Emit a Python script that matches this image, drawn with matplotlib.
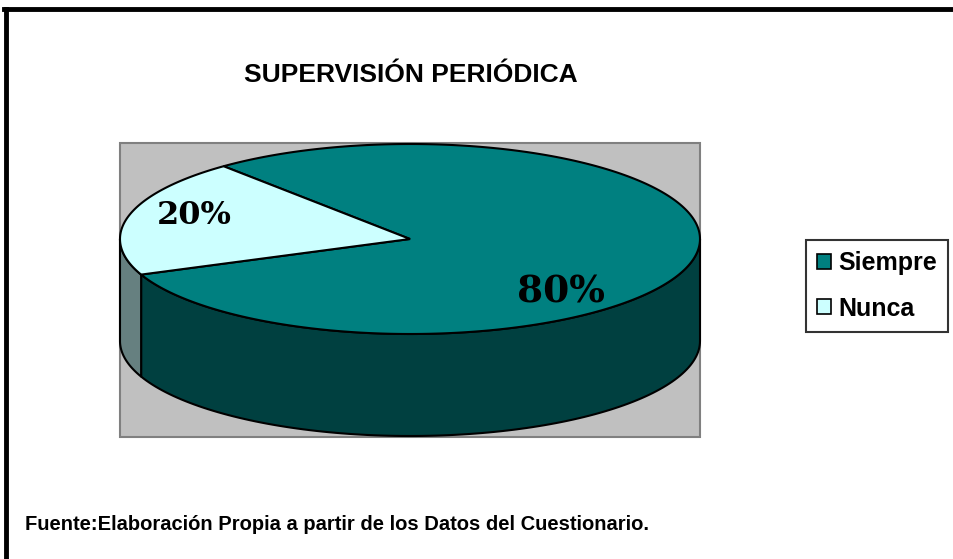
import numpy as np
import matplotlib.pyplot as plt
from matplotlib.patches import Polygon, Rectangle, Patch
from matplotlib.lines import Line2D

# ==============================
# datos
# ==============================
titulo = "SUPERVISIÓN PERIÓDICA"
fuente = "Fuente:Elaboración Propia a partir de los Datos del Cuestionario."
categorias = ["Siempre", "Nunca"]
porcentajes = [80, 20]
color_top = ["#008080", "#CCFFFF"]
color_lado = ["#004040", "#668080"]

# ==============================
# geometria (pixeles)
# ==============================
W, H = 954, 559
cx, cy = 410, 239
rx, ry = 290, 95
prof = 102
inicio = 130.0   # angulo (grados) donde empieza la primera porcion, sentido horario

fig = plt.figure(figsize=(W / 100, H / 100), dpi=100)
ax = fig.add_axes([0, 0, 1, 1])
ax.set_xlim(0, W)
ax.set_ylim(H, 0)
ax.axis("off")

# area del grafico
ax.add_patch(Rectangle((120, 143), 580, 294, facecolor="#C0C0C0",
                       edgecolor="#808080", lw=1.5, zorder=1))


def punto(t, dz=0.0):
    t = np.radians(t)
    return cx + rx * np.cos(t), cy - ry * np.sin(t) + dz


# angulos de cada porcion (sentido horario desde "inicio")
tot = sum(porcentajes)
rangos = []
a = inicio
for p in porcentajes:
    b = a - 360.0 * p / tot
    rangos.append((b, a))  # de b a a (creciente)
    a = b

# caras laterales (solo parte frontal: 180..360)
for (b, a), cl in zip(rangos, color_lado):
    for k in range(-1, 2):
        lo = max(b, 180 + 360 * k)
        hi = min(a, 360 + 360 * k)
        if hi <= lo:
            continue
        ts = np.linspace(lo, hi, 120)
        top = [punto(t) for t in ts]
        bot = [punto(t, prof) for t in ts[::-1]]
        ax.add_patch(Polygon(top + bot, closed=True, facecolor=cl,
                             edgecolor="black", lw=1.5, zorder=2))

# caras superiores
for (b, a), ct in zip(rangos, color_top):
    ts = np.linspace(b, a, 300)
    pts = [(cx, cy)] + [punto(t) for t in ts]
    ax.add_patch(Polygon(pts, closed=True, facecolor=ct,
                         edgecolor="black", lw=1.5, zorder=3))

# etiquetas de porcentaje
pos_etq = [(561, 292), (194, 215)]
tam_etq = [27, 23]
for p, (x, y), s in zip(porcentajes, pos_etq, tam_etq):
    ax.text(x, y, f"{p}%", ha="center", va="center", fontsize=s,
            fontweight="bold", family="DejaVu Serif", zorder=5)

# titulo
ax.text(411, 75, titulo, ha="center", va="center", fontsize=19,
        fontweight="bold", family=["Liberation Sans Narrow", "Liberation Sans"])

# fuente
ax.text(25, 525, fuente, ha="left", va="center", fontsize=14.5,
        fontweight="bold", family=["Liberation Sans Narrow", "Liberation Sans"])

# leyenda
handles = [Patch(facecolor=c, edgecolor="black", lw=1.2) for c in color_top]
leg = fig.legend(handles, categorias, loc="center", bbox_to_anchor=(877 / W, 1 - 286 / H),
                 prop={"family": "Liberation Sans", "weight": "bold", "size": 18},
                 frameon=True, fancybox=False, edgecolor="black",
                 handlelength=0.55, handleheight=0.55, handletextpad=0.3,
                 labelspacing=0.85, borderpad=0.45)
leg.get_frame().set_linewidth(1.5)

# borde de la imagen (izquierda y arriba)
fig.add_artist(Line2D([6 / W, 6 / W], [0, 1 - 9 / H], color="black", lw=3.5,
                      transform=fig.transFigure))
fig.add_artist(Line2D([4 / W, 1], [1 - 9 / H, 1 - 9 / H], color="black", lw=3.5,
                      transform=fig.transFigure))

plt.savefig("out.png", dpi=100)
